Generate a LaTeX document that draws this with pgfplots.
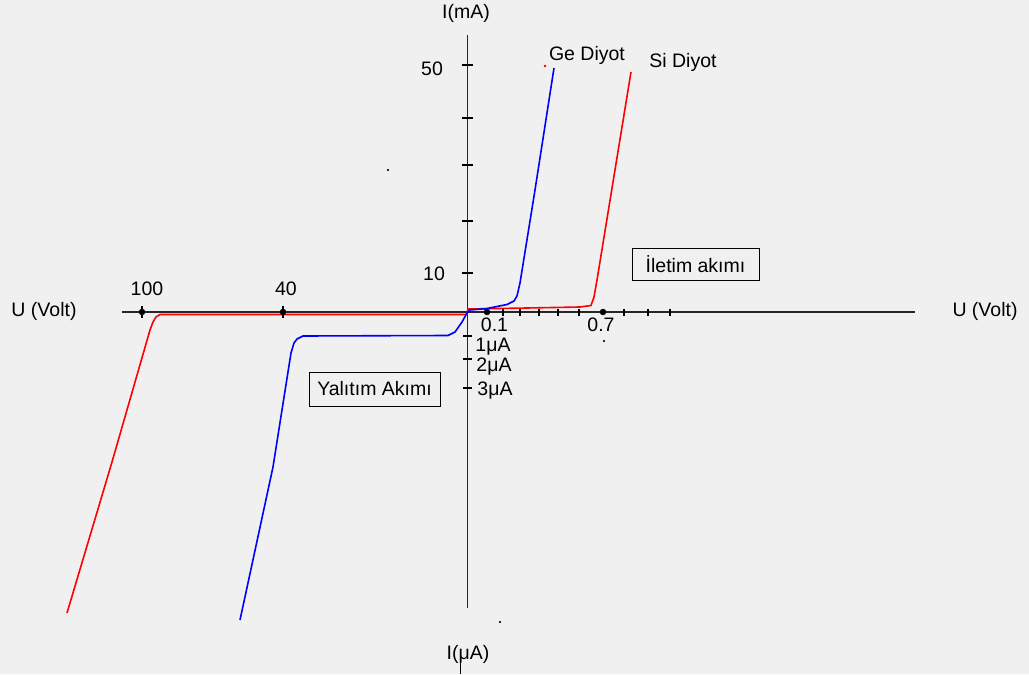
\documentclass[border=0pt]{standalone}
\usepackage{pgfplots}
\pgfplotsset{compat=1.18}
\usepackage{fontspec}
\setmainfont{Liberation Sans}
\definecolor{bg}{RGB}{240,240,240}
\definecolor{sired}{RGB}{255,0,0}
\definecolor{geblue}{RGB}{0,0,255}
\newcommand{\fs}{\fontsize{19.5}{23}\selectfont}
\begin{document}
\begin{tikzpicture}
\begin{axis}[width=1029pt, height=674pt, scale only axis,
  xmin=0, xmax=1029, ymin=0, ymax=674, y dir=reverse,
  hide axis, clip=false]
% background
\addplot[fill=bg, draw=none] coordinates {(0,0) (1029,0) (1029,674) (0,674) (0,0)};
% axes
\addplot[black!85, line width=1.6pt] coordinates {(122,312) (915,312)};
\addplot[black!85, line width=1.6pt] coordinates {(467.5,35) (467.5,608)};
\addplot[black, line width=1pt] coordinates {(460,661) (460,674)};
% vertical axis ticks (mA)
\addplot[only marks, mark=-, mark size=5.5pt, mark options={line width=1.3pt, black}] coordinates {(467.5,65) (467.5,118) (467.5,165) (467.5,221) (467.5,273)};
% muA ticks
\addplot[only marks, mark=-, mark size=4.5pt, mark options={line width=2.6pt, black}] coordinates {(467.5,336) (467.5,359) (467.5,388)};
% x ticks right
\addplot[only marks, mark=|, mark size=3.5pt, mark options={line width=1.3pt, black}] coordinates {(503,312) (520,312) (539,312) (558,312) (579,312) (624,312) (648,312) (670,312)};
% x ticks left
\addplot[only marks, mark=|, mark size=6pt, mark options={line width=1.3pt, black}] coordinates {(142,312) (283,312)};
% dots
\addplot[only marks, mark=*, mark size=3pt, mark options={black}] coordinates {(142,312) (283,312) (487,312) (603,312)};
% tiny specks
\addplot[only marks, mark=*, mark size=0.9pt, mark options={black}] coordinates {(388,170) (500,622) (604,341)};
\addplot[only marks, mark=*, mark size=1pt, mark options={sired}] coordinates {(545,66)};
% Si diode (red)
\addplot[sired, line width=1.6pt] coordinates {
(67,613) (112,462) (150,330) (153,322) (156,317) (160,314.5) (467,314.5)
(468,309) (527,308) (580,307) (591,305.5) (594,297) (597,280) (631,72)};
% Ge diode (blue)
\addplot[geblue, line width=1.6pt] coordinates {
(240,620) (273,467) (291,353) (294,343) (297,339) (303,336) (448,335.5)
(455,332) (462,322) (467,313) (470,310) (487,308.5) (507,304.5) (514,301)
(517,296) (520,283) (535,190) (554,68)};
% texts
\node[font=\fs] at (466,13) {I(mA)};
\node[font=\fs] at (432,69) {50};
\node[font=\fs] at (434,274) {10};
\node[font=\fs] at (587,55) {Ge Diyot};
\node[font=\fs] at (683,62) {Si Diyot};
\node[font=\fs] at (147,289) {100};
\node[font=\fs] at (286,289) {40};
\node[font=\fs] at (44,311) {U (Volt)};
\node[font=\fs] at (985,311) {U (Volt)};
\node[font=\fs] at (494.5,325) {0.1};
\node[font=\fs] at (601,325) {0.7};
\node[font=\fs] at (493,347) {1μA};
\node[font=\fs] at (494,367) {2μA};
\node[font=\fs] at (495,391) {3μA};
\node[font=\fs] at (468,654) {I(μA)};
\node[font=\fs, draw=black, line width=1pt, minimum width=127pt, minimum height=32pt, inner sep=0pt] at (695.5,264) {İletim akımı};
\node[font=\fs, draw=black, line width=1pt, minimum width=131pt, minimum height=34pt, inner sep=0pt] at (374.5,389) {Yalıtım Akımı};
\end{axis}
\end{tikzpicture}
\end{document}
